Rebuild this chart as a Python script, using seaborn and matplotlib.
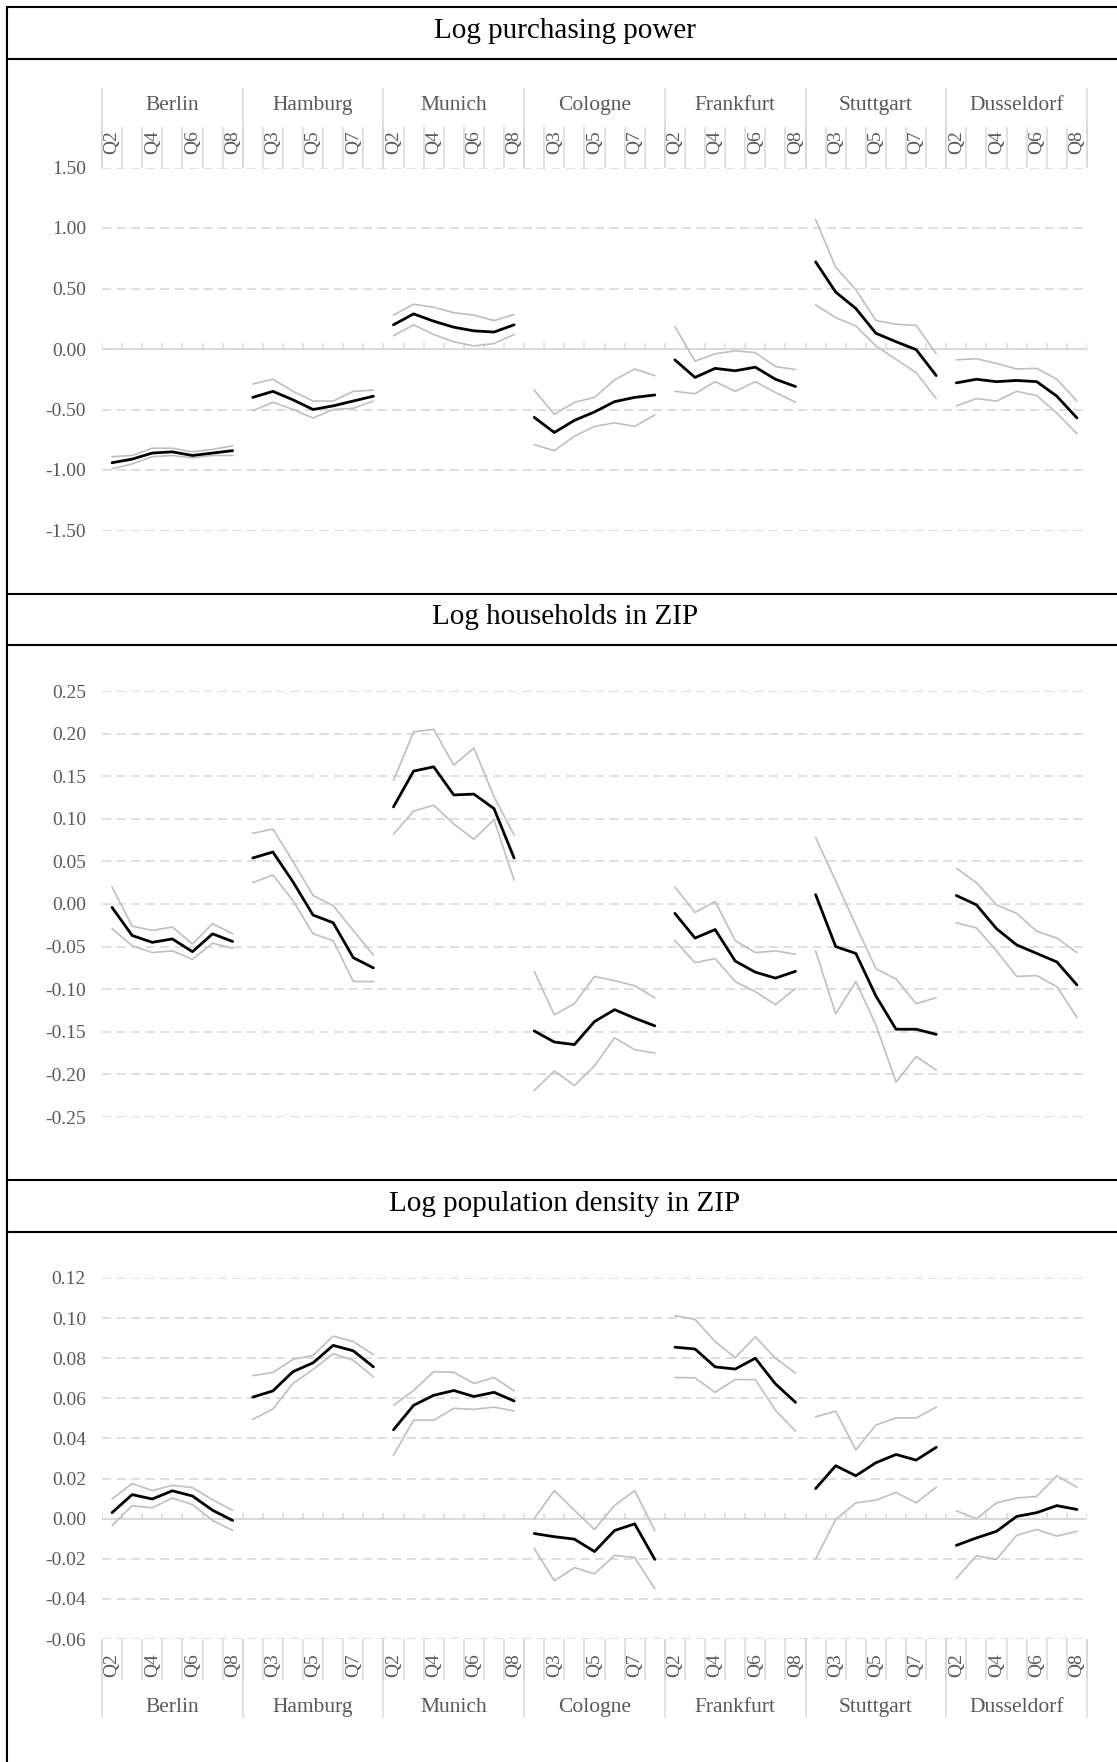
import numpy as np
import pandas as pd
import matplotlib
matplotlib.use("Agg")
import matplotlib.pyplot as plt
from matplotlib.lines import Line2D
import seaborn as sns

# ---------------- data ----------------
cities = ["Berlin", "Hamburg", "Munich", "Cologne", "Frankfurt", "Stuttgart", "Dusseldorf"]
quarters = ["Q2", "Q3", "Q4", "Q5", "Q6", "Q7", "Q8"]

titles = ["Log purchasing power", "Log households in ZIP", "Log population density in ZIP"]

# Log purchasing power (one row per city, Q2..Q8)
pp_mean = [[-0.94, -0.91, -0.86, -0.85, -0.88, -0.86, -0.84],
           [-0.40, -0.35, -0.42, -0.50, -0.47, -0.43, -0.39],
           [0.20, 0.29, 0.23, 0.18, 0.15, 0.14, 0.20],
           [-0.565, -0.69, -0.59, -0.52, -0.435, -0.40, -0.38],
           [-0.09, -0.235, -0.16, -0.18, -0.15, -0.25, -0.31],
           [0.72, 0.47, 0.335, 0.13, 0.06, -0.005, -0.22],
           [-0.28, -0.25, -0.27, -0.26, -0.27, -0.39, -0.57]]
pp_up = [[-0.89, -0.88, -0.82, -0.82, -0.85, -0.83, -0.80],
         [-0.29, -0.25, -0.35, -0.43, -0.43, -0.35, -0.34],
         [0.28, 0.37, 0.345, 0.30, 0.28, 0.235, 0.285],
         [-0.34, -0.54, -0.44, -0.40, -0.255, -0.165, -0.22],
         [0.185, -0.10, -0.04, -0.015, -0.03, -0.145, -0.17],
         [1.07, 0.675, 0.49, 0.235, 0.205, 0.195, -0.04],
         [-0.09, -0.08, -0.12, -0.165, -0.16, -0.25, -0.43]]
pp_lo = [[-0.99, -0.95, -0.89, -0.88, -0.90, -0.88, -0.88],
         [-0.51, -0.44, -0.50, -0.57, -0.50, -0.49, -0.43],
         [0.11, 0.20, 0.12, 0.06, 0.025, 0.045, 0.12],
         [-0.79, -0.84, -0.72, -0.64, -0.61, -0.64, -0.545],
         [-0.35, -0.37, -0.27, -0.35, -0.27, -0.36, -0.44],
         [0.365, 0.26, 0.19, 0.025, -0.085, -0.195, -0.41],
         [-0.47, -0.41, -0.43, -0.35, -0.385, -0.53, -0.70]]
pp_ticks = [-1.5, -1.0, -0.5, 0.0, 0.5, 1.0, 1.5]

# Log households in ZIP
hh_mean = [[-0.004, -0.037, -0.045, -0.041, -0.056, -0.035, -0.044],
           [0.054, 0.061, 0.026, -0.013, -0.022, -0.063, -0.075],
           [0.114, 0.156, 0.161, 0.128, 0.129, 0.112, 0.054],
           [-0.149, -0.162, -0.165, -0.138, -0.124, -0.134, -0.143],
           [-0.011, -0.040, -0.030, -0.067, -0.080, -0.087, -0.079],
           [0.011, -0.050, -0.058, -0.108, -0.147, -0.147, -0.153],
           [0.010, -0.001, -0.029, -0.048, -0.058, -0.068, -0.095]]
hh_up = [[0.020, -0.026, -0.031, -0.027, -0.047, -0.023, -0.035],
         [0.083, 0.088, 0.050, 0.010, -0.002, -0.031, -0.060],
         [0.145, 0.202, 0.205, 0.163, 0.183, 0.126, 0.081],
         [-0.079, -0.130, -0.117, -0.085, -0.090, -0.096, -0.110],
         [0.020, -0.010, 0.003, -0.043, -0.057, -0.055, -0.059],
         [0.078, 0.027, -0.025, -0.076, -0.088, -0.117, -0.110],
         [0.042, 0.025, -0.001, -0.011, -0.032, -0.040, -0.057]]
hh_lo = [[-0.029, -0.049, -0.057, -0.055, -0.065, -0.046, -0.052],
         [0.025, 0.034, 0.004, -0.035, -0.043, -0.091, -0.091],
         [0.082, 0.109, 0.116, 0.094, 0.076, 0.099, 0.028],
         [-0.219, -0.196, -0.213, -0.190, -0.157, -0.171, -0.175],
         [-0.043, -0.069, -0.064, -0.091, -0.103, -0.118, -0.099],
         [-0.055, -0.129, -0.091, -0.142, -0.209, -0.179, -0.195],
         [-0.022, -0.028, -0.055, -0.085, -0.084, -0.097, -0.133]]
hh_ticks = [-0.25, -0.20, -0.15, -0.10, -0.05, 0.0, 0.05, 0.10, 0.15, 0.20, 0.25]

# Log population density in ZIP
pd_mean = [[0.003, 0.012, 0.0098, 0.0139, 0.0113, 0.0042, -0.0009],
           [0.0606, 0.0637, 0.0733, 0.0777, 0.0864, 0.0837, 0.0757],
           [0.0443, 0.0565, 0.0615, 0.0639, 0.0609, 0.063, 0.0587],
           [-0.0074, -0.009, -0.0102, -0.0164, -0.0059, -0.0026, -0.0203],
           [0.0855, 0.0846, 0.0757, 0.0746, 0.080, 0.0672, 0.058],
           [0.015, 0.0264, 0.0214, 0.0279, 0.032, 0.0292, 0.0356],
           [-0.0133, -0.0096, -0.0063, 0.0011, 0.003, 0.0065, 0.0046]]
pd_up = [[0.0098, 0.0175, 0.014, 0.0166, 0.0155, 0.0094, 0.0042],
         [0.0713, 0.0729, 0.0794, 0.0814, 0.091, 0.0883, 0.0818],
         [0.0565, 0.0639, 0.0733, 0.073, 0.0674, 0.0704, 0.0637],
         [0.0, 0.014, 0.0042, -0.0054, 0.0066, 0.014, -0.0059],
         [0.1012, 0.0994, 0.0883, 0.0803, 0.0907, 0.080, 0.0726],
         [0.0508, 0.0536, 0.0343, 0.0467, 0.0502, 0.0502, 0.0556],
         [0.0039, 0.0, 0.0079, 0.0103, 0.0111, 0.0214, 0.0157]]
pd_lo = [[-0.0035, 0.0065, 0.0054, 0.0103, 0.007, -0.0009, -0.0059],
         [0.0495, 0.0547, 0.0674, 0.0744, 0.0822, 0.079, 0.0707],
         [0.0316, 0.0491, 0.0491, 0.055, 0.0545, 0.0556, 0.0537],
         [-0.0148, -0.031, -0.0244, -0.0275, -0.0183, -0.0194, -0.035],
         [0.0704, 0.0702, 0.063, 0.0694, 0.0693, 0.0541, 0.0436],
         [-0.0201, -0.0004, 0.0079, 0.0092, 0.0131, 0.0079, 0.0157],
         [-0.0297, -0.0185, -0.0203, -0.0083, -0.0054, -0.0087, -0.0063]]
pd_ticks = [-0.06, -0.04, -0.02, 0.0, 0.02, 0.04, 0.06, 0.08, 0.10, 0.12]

# ---------------- style ----------------
W, H, DPI = 1117, 1762, 100
sns.set_theme(style="white")
plt.rcParams["font.family"] = ["Liberation Serif", "DejaVu Serif"]
plt.rcParams["axes.unicode_minus"] = False

GRID = "#D9D9D9"
TXT = "#595959"
CI = "#BFBFBF"
FS = 14
FS_CITY = 15.5
FS_TITLE = 21


def px2pt(p):
    return p * 72.0 / DPI


def long_frame(mean, up, lo):
    rows = []
    for name, arr in (("upper", up), ("lower", lo), ("mean", mean)):
        for ci, city in enumerate(cities):
            for qi, q in enumerate(quarters):
                rows.append(dict(series=name, city=city, quarter=q,
                                 pos=ci * len(quarters) + qi, value=arr[ci][qi]))
    return pd.DataFrame(rows)


fig = plt.figure(figsize=(W / DPI, H / DPI), dpi=DPI)
fig.patch.set_facecolor("white")

X0, X1 = 102, 1087
n_q = len(quarters)
n_cat = len(cities) * n_q
bounds = [k - 0.5 for k in range(n_cat + 1)]
city_bounds = [k * n_q - 0.5 for k in range(len(cities) + 1)]
city_centers = [k * n_q + (n_q - 1) / 2 for k in range(len(cities))]
cat_labels = [q for _ in cities for q in quarters]
lab_pos = list(range(0, n_cat, 2))

panels = [
    dict(mean=pp_mean, up=pp_up, lo=pp_lo, ticks=pp_ticks, ytop=167.5, ybot=530.5,
         labels="top", axis0=True, city_pad=52),
    dict(mean=hh_mean, up=hh_up, lo=hh_lo, ticks=hh_ticks, ytop=691, ybot=1117,
         labels=None, axis0=False, city_pad=0),
    dict(mean=pd_mean, up=pd_up, lo=pd_lo, ticks=pd_ticks, ytop=1278, ybot=1639,
         labels="bottom", axis0=True, city_pad=59),
]

for p in panels:
    rect = [X0 / W, 1 - p["ybot"] / H, (X1 - X0) / W, (p["ybot"] - p["ytop"]) / H]
    ax = fig.add_axes(rect)
    ax.set_facecolor("none")
    df = long_frame(p["mean"], p["up"], p["lo"])
    for name, col, lw, z in (("upper", CI, 1.2, 3), ("lower", CI, 1.2, 3), ("mean", "black", 2.0, 4)):
        sub = df[df["series"] == name]
        sns.lineplot(data=sub, x="pos", y="value", units="city", estimator=None,
                     color=col, linewidth=lw, ax=ax, zorder=z, legend=False)
    ticks = p["ticks"]
    ax.set_ylim(ticks[0], ticks[-1])
    ax.set_xlim(-0.5, n_cat - 0.5)
    ax.set_yticks(ticks, labels=[f"{t:.2f}" for t in ticks])
    ax.tick_params(axis="y", length=0, pad=px2pt(16), labelsize=FS, labelcolor=TXT)
    ax.grid(False)
    ax.yaxis.grid(True, color=GRID, linewidth=1.2, linestyle=(0, (5.5, 3.2)), zorder=0)
    ax.set_axisbelow(True)
    for s in ax.spines.values():
        s.set_visible(False)
    ax.set_xlabel("")
    ax.set_ylabel("")

    if p["axis0"]:
        ax.axhline(0, color=GRID, linewidth=1.4, zorder=1)
        span = ticks[-1] - ticks[0]
        th = span * 6.0 / (p["ybot"] - p["ytop"])
        ax.vlines(bounds, 0, th, colors=GRID, linewidth=1.1, zorder=1)

    if p["labels"] is None:
        ax.set_xticks([])
        ax.tick_params(axis="x", which="both", length=0, labelbottom=False)
    else:
        top = p["labels"] == "top"
        ax.set_xticks(lab_pos, labels=[cat_labels[i] for i in lab_pos], rotation=90)
        ax.set_xticks(bounds, minor=True)
        ax.tick_params(axis="x", which="both", top=top, bottom=not top,
                       labeltop=top, labelbottom=not top)
        ax.tick_params(axis="x", which="major", length=0, pad=px2pt(14),
                       labelsize=FS, labelcolor=TXT)
        ax.tick_params(axis="x", which="minor", length=px2pt(41), width=1.1,
                       color=GRID, direction="out")
        sec = ax.secondary_xaxis(p["labels"])
        sec.set_xticks(city_bounds, labels=[""] * len(city_bounds))
        sec.set_xticks(city_centers, labels=cities, minor=True)
        sec.tick_params(axis="x", which="major", length=px2pt(79), width=1.1,
                        color=GRID, direction="out")
        sec.tick_params(axis="x", which="minor", length=0, pad=px2pt(p["city_pad"]),
                        labelsize=FS_CITY, labelcolor=TXT)
        for s in sec.spines.values():
            s.set_visible(False)

# ---------------- table frame and titles ----------------
BL = 6.7
for yy in (7, 59, 594, 645, 1180, 1232):
    fig.add_artist(Line2D([BL / W, 1.0], [1 - yy / H, 1 - yy / H], color="black",
                          linewidth=1.5, transform=fig.transFigure))
fig.add_artist(Line2D([BL / W, BL / W], [1 - 7 / H, 0.0], color="black",
                      linewidth=1.5, transform=fig.transFigure))

for t, (a, b) in zip(titles, ((7, 59), (594, 645), (1180, 1232))):
    fig.text(565 / W, 1 - ((a + b) / 2 - 2) / H, t, ha="center", va="center",
             fontsize=FS_TITLE, color="black")

fig.savefig("out.png", dpi=DPI, facecolor="white")
